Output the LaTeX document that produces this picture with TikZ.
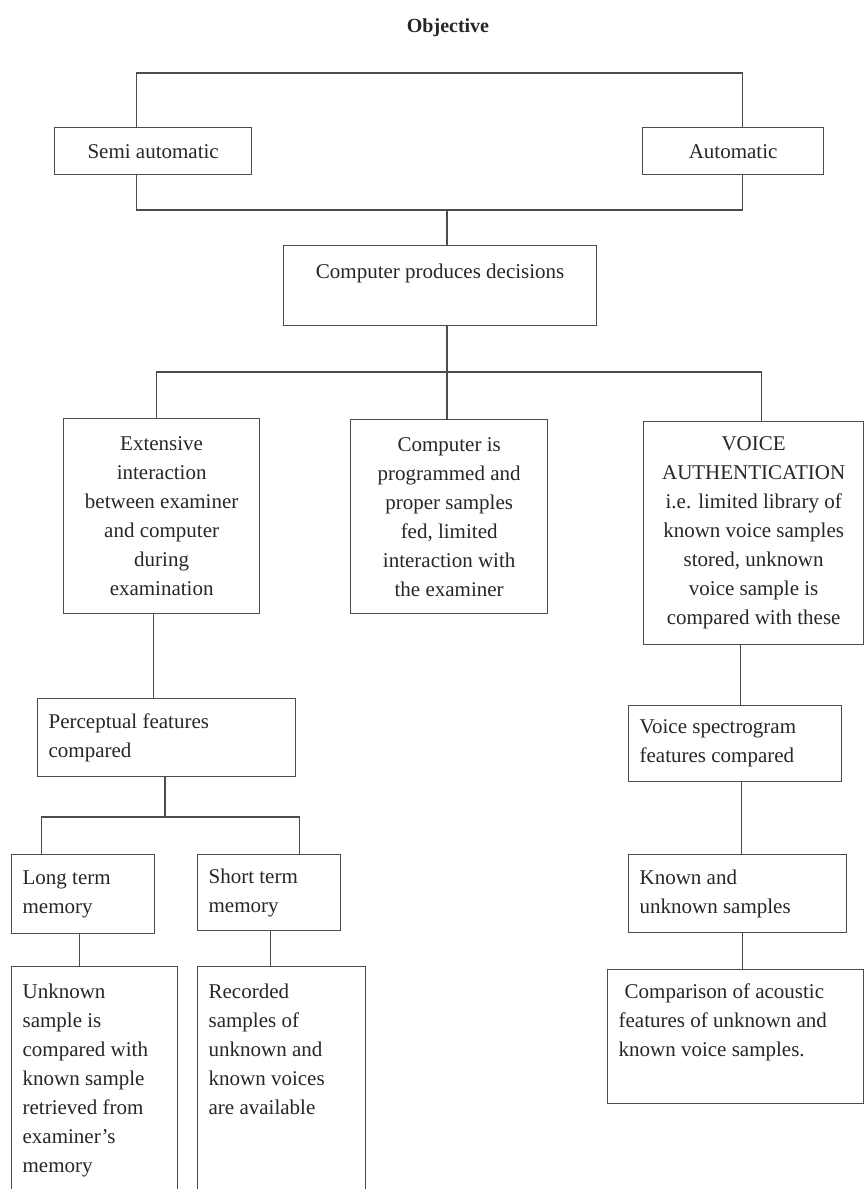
\documentclass[tikz,border=0pt]{standalone}
\usepackage{fontspec}
\setmainfont{Liberation Serif}
\newcommand{\celltxt}[4][c]{\parbox[c][#3][#1]{#2}{#4}}
\begin{document}
\begin{tikzpicture}
  [x=1pt,y=-1pt,
   cellbox/.style={draw=black!70,line width=1.3pt,anchor=north west,inner xsep=11pt,inner ysep=0pt,
     text=black!85,font=\fontsize{21}{29}\selectfont},
   link/.style={draw=black!70,line width=1.3pt}]
  \useasboundingbox (0,0) rectangle (865,1189);
  \clip (0,0) rectangle (865,1189);
  \node[text=black!85,font=\fontsize{20}{24}\selectfont\bfseries] (title) at (448,28) {Objective};
  \node[cellbox] (semi) at (54,127) {\celltxt{175pt}{47pt}{\centering Semi automatic}};
  \node[cellbox] (auto) at (642,127) {\celltxt{159pt}{47pt}{\centering Automatic}};
  \node[cellbox] (cpd) at (283,245) {\celltxt[t]{291pt}{80pt}{\vspace*{13pt}\centering\strut Computer produces decisions}};
  \node[cellbox] (ext) at (63,418) {\celltxt{174pt}{195pt}{\centering Extensive\\ interaction\\ between examiner\\ and computer\\ during\\ examination}};
  \node[cellbox] (prog) at (350,419) {\celltxt{175pt}{194pt}{\centering Computer is\\ programmed and\\ proper samples\\ fed, limited\\ interaction with\\ the examiner}};
  \node[cellbox,inner xsep=5pt] (voice) at (643,421) {\celltxt{210pt}{223pt}{\centering VOICE\\ AUTHENTICATION\\ i.e. limited library of\\ known voice samples\\ stored, unknown\\ voice sample is\\ compared with these}};
  \node[cellbox] (perc) at (37,698) {\celltxt{236pt}{78pt}{\raggedright Perceptual features\\ compared}};
  \node[cellbox] (long) at (11,854) {\celltxt{121pt}{79pt}{\raggedright Long term\\ memory}};
  \node[cellbox] (short) at (197,854) {\celltxt{121pt}{76pt}{\raggedright Short term\\ memory}};
  \node[cellbox] (unknown) at (11,966) {\celltxt[t]{144pt}{234pt}{\vspace*{12pt}\raggedright\strut Unknown\\ sample is\\ compared with\\ known sample\\ retrieved from\\ examiner's\\ memory}};
  \node[cellbox] (recorded) at (197,966) {\celltxt[t]{146pt}{234pt}{\vspace*{12pt}\raggedright\strut Recorded\\ samples of\\ unknown and\\ known voices\\ are available}};
  \node[cellbox] (spec) at (628,705) {\celltxt{191pt}{76pt}{\raggedright Voice spectrogram\\ features compared}};
  \node[cellbox] (known) at (628,854) {\celltxt{196pt}{78pt}{\raggedright Known and\\ unknown samples}};
  \node[cellbox] (comp) at (607,969) {\celltxt[t]{234pt}{134pt}{\vspace*{9pt}\raggedright\strut\hspace*{6pt}Comparison of acoustic\\ features of unknown and\\ known voice samples.}};

  \coordinate (j0) at (447,73);
  \coordinate (j1) at (447,210);
  \coordinate (j2) at (447,372);
  \coordinate (j3) at (165,817);

  \draw[link] ([xshift=-17pt]semi.north) |- (j0) -| ([xshift=9pt]auto.north);
  \draw[link] ([xshift=-17pt]semi.south) |- (j1) -| ([xshift=9pt]auto.south);
  \draw[link] (j1) -- (j1 |- cpd.north);
  \draw[link] (j2 |- cpd.south) -- (j2);
  \draw[link] ([xshift=-5pt]ext.north) |- (j2) -| ([xshift=8pt]voice.north);
  \draw[link] (j2) -- (j2 |- prog.north);
  \draw[link] ([xshift=-8pt]ext.south) -- ([xshift=-13pt]perc.north);
  \draw[link] (j3 |- perc.south) -- (j3);
  \draw[link] ([xshift=-42pt]long.north) |- (j3) -| ([xshift=30pt]short.north);
  \draw[link] ([xshift=-3.5pt]long.south) -- ([xshift=-15pt]unknown.north);
  \draw[link] ([xshift=1.5pt]short.south) -- ([xshift=-11pt]recorded.north);
  \draw[link] ([xshift=-13pt]voice.south) -- ([xshift=5.5pt]spec.north);
  \draw[link] ([xshift=6.5pt]spec.south) -- ([xshift=4pt]known.north);
  \draw[link] ([xshift=5pt]known.south) -- ([xshift=7pt]comp.north);
\end{tikzpicture}
\end{document}
